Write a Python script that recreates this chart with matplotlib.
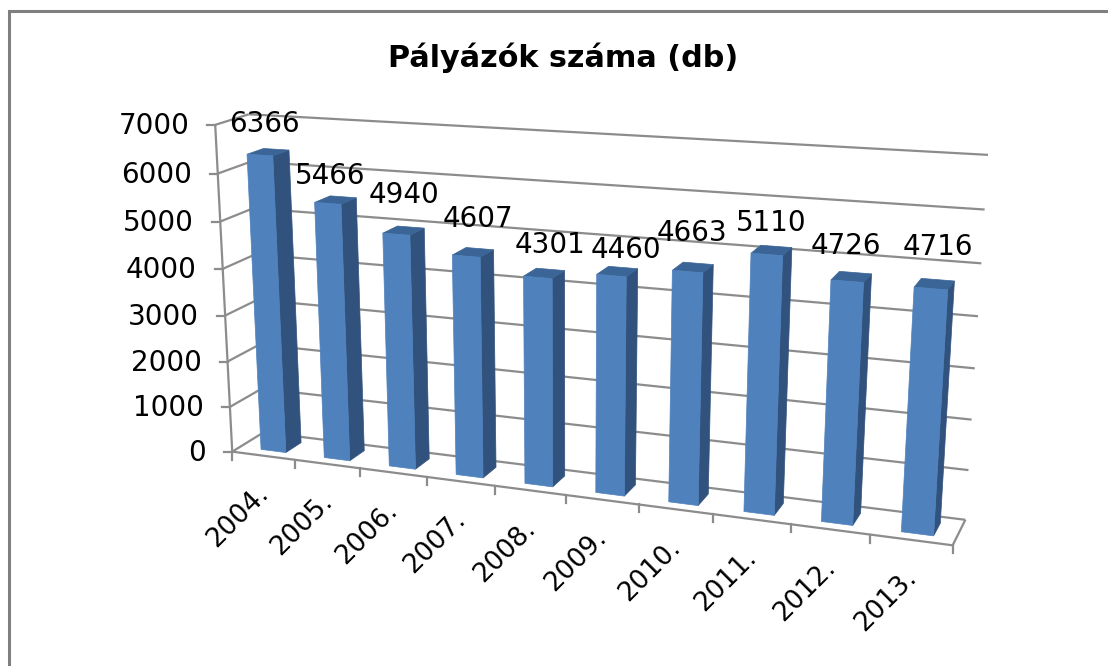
import numpy as np
import matplotlib
matplotlib.use("Agg")
import matplotlib.pyplot as plt
from matplotlib.patches import Polygon

# --- data ---
years = ["2004.", "2005.", "2006.", "2007.", "2008.", "2009.", "2010.", "2011.", "2012.", "2013."]
applicants = [6366, 5466, 4940, 4607, 4301, 4460, 4663, 5110, 4726, 4716]
value_ticks = [0, 1000, 2000, 3000, 4000, 5000, 6000, 7000]
title_text = "Pályázók száma (db)"

# --- layout / style (not data) ---
W, H = 1108, 666
VMAX = 7000.0
GRID = "#8C8C8C"
FRONT, SIDE, TOP = "#4F81BD", "#31527C", "#3A6596"
BAR_W, BAR_OFF = 0.395, 0.335
D0, D1 = 0.25, 0.75
label_shift = [(5, -31), (2, -27), (8, -39), (12, -37), (12, -32), (15, -26), (4, -39), (4, -31), (-1, -35), (7, -42)]

# camera fitted to the plot box corners: (category, value fraction, depth) -> pixel
box_points = [((0, 0, 0), (233, 451)), ((0, 1, 0), (215, 124)), ((0, 0, 1), (263, 433)),
              ((0, 1, 1), (249, 115)), ((1, 0, 1), (966, 518)), ((1, 1, 1), (988, 155)),
              ((1, 0, 0), (952, 547))]
rows = []
for (X, Y, Z), (px, py) in box_points:
    rows.append([X, Y, Z, 1, 0, 0, 0, 0, -px*X, -px*Y, -px*Z, -px])
    rows.append([0, 0, 0, 0, X, Y, Z, 1, -py*X, -py*Y, -py*Z, -py])
CAM = np.linalg.svd(np.array(rows, float))[2][-1].reshape(3, 4)


def proj(cat, val, depth):
    h = CAM @ np.array([cat / len(years), val / VMAX, depth, 1.0])
    return h[0] / h[2], h[1] / h[2]


fig = plt.figure(figsize=(W / 100, H / 100), dpi=100, facecolor="white")
ax = fig.add_axes([0, 0, 1, 1])
ax.set_xlim(0, W)
ax.set_ylim(H, 0)
ax.axis("off")
plt.rcParams["font.family"] = "DejaVu Sans"

# chart frame (only top and left edges are in view)
ax.plot([8.5, 8.5, W], [H, 11, 11], color="#7F7F7F", lw=2.2, solid_joinstyle="miter")

n = len(years)
LW = 1.6


def seg(a, b):
    p, q = proj(*a), proj(*b)
    ax.plot([p[0], q[0]], [p[1], q[1]], color=GRID, lw=LW, solid_capstyle="butt", zorder=2)


for v in value_ticks:
    seg((0, v, 0), (0, v, 1))
    seg((0, v, 1), (n, v, 1))
    p = proj(0, v, 0)
    ax.plot([p[0] - 8, p[0]], [p[1], p[1]], color=GRID, lw=LW, zorder=2)
    ax.text(p[0] - 26, p[1] + 1, str(v), ha="right", va="center", fontsize=20, color="black", zorder=6)
seg((0, 0, 0), (0, VMAX, 0))
seg((0, 0, 0), (n, 0, 0))
seg((n, 0, 0), (n, 0, 1))

for i in range(n + 1):
    p = proj(i, 0, 0)
    ax.plot([p[0], p[0]], [p[1], p[1] + 8], color=GRID, lw=LW, zorder=2)

for i, (yr, val) in enumerate(zip(years, applicants)):
    a, b = i + BAR_OFF, i + BAR_OFF + BAR_W
    front = [proj(a, 0, D0), proj(b, 0, D0), proj(b, val, D0), proj(a, val, D0)]
    side = [proj(b, 0, D0), proj(b, 0, D1), proj(b, val, D1), proj(b, val, D0)]
    top = [proj(a, val, D0), proj(b, val, D0), proj(b, val, D1), proj(a, val, D1)]
    for poly, col in ((side, SIDE), (top, TOP), (front, FRONT)):
        ax.add_patch(Polygon(poly, closed=True, facecolor=col, edgecolor=col, lw=0.5, zorder=3 + i * 0.01))
    tx, ty = proj(a + BAR_W / 2, val, D0)
    dx, dy = label_shift[i]
    ax.text(tx + dx, ty + dy, str(val), ha="center", va="center", fontsize=20, color="black", zorder=6)
    cx, cy = proj(i + 0.5, 0, 0)
    ax.text(cx + 1, cy + 34, yr, rotation=45, rotation_mode="anchor", ha="right", va="center",
            fontsize=19, color="black", zorder=6)

ax.text(563, 58, title_text, ha="center", va="center", fontsize=21.8, fontweight="bold", color="black")

fig.savefig("out.png", dpi=100, facecolor="white")
